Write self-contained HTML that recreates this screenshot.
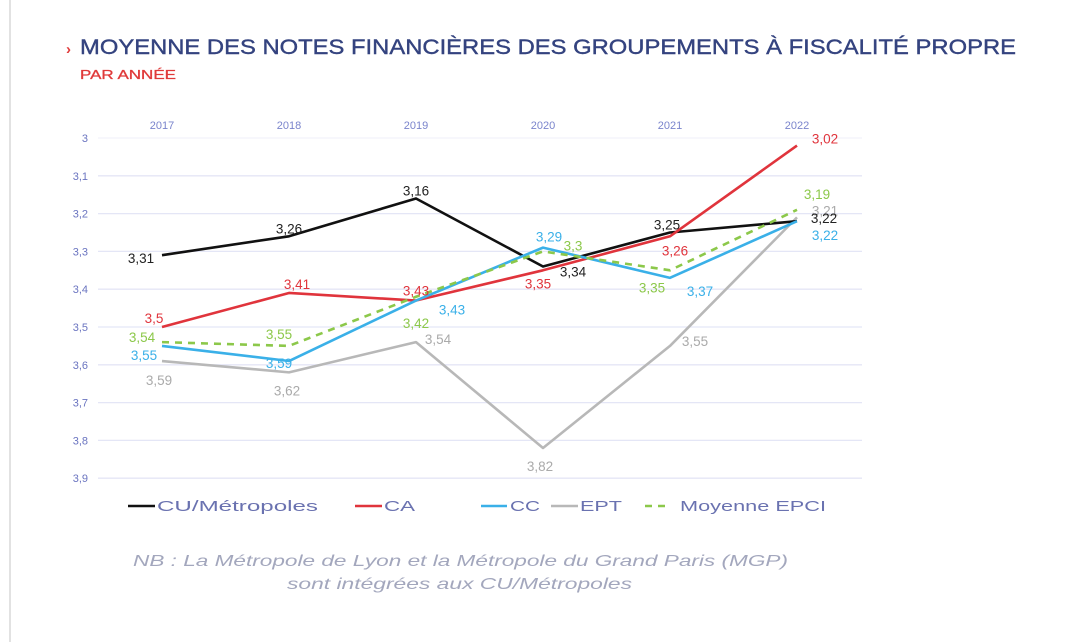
<!DOCTYPE html>
<html><head><meta charset="utf-8"><style>
html,body{margin:0;padding:0;background:#fff;}
svg{display:block;font-family:"Liberation Sans",sans-serif;}
</style></head><body>
<svg id="chart" width="1076" height="642" viewBox="0 0 1076 642">
<line x1="10" y1="0" x2="10" y2="642" stroke="#d8d8d8" stroke-width="1.5"/>
<text x="66" y="54" font-size="15" font-weight="bold" fill="#e03a3a">›</text>
<text x="80" y="54" font-size="21.5" fill="#34437f" stroke="#34437f" stroke-width="0.4" textLength="936" lengthAdjust="spacingAndGlyphs">MOYENNE DES NOTES FINANCIÈRES DES GROUPEMENTS À FISCALITÉ PROPRE</text>
<text x="80" y="79" font-size="13" fill="#e03a3a" stroke="#e03a3a" stroke-width="0.3" textLength="96" lengthAdjust="spacingAndGlyphs">PAR ANNÉE</text>
<g id="grid"></g><g id="series"></g><g id="labels"></g>
<g id="legend" font-size="15" fill="#6a72b0">
<line x1="128" y1="506" x2="155" y2="506" stroke="#111" stroke-width="2.5"/>
<text x="157" y="511" textLength="161" lengthAdjust="spacingAndGlyphs">CU/Métropoles</text>
<line x1="355" y1="506" x2="382" y2="506" stroke="#e0343c" stroke-width="2.5"/>
<text x="384" y="511" textLength="31" lengthAdjust="spacingAndGlyphs">CA</text>
<line x1="481" y1="506" x2="507" y2="506" stroke="#3ab0e8" stroke-width="2.5"/>
<text x="510" y="511" textLength="30" lengthAdjust="spacingAndGlyphs">CC</text>
<line x1="551" y1="506" x2="578" y2="506" stroke="#b8b8b8" stroke-width="2.5"/>
<text x="580" y="511" textLength="42" lengthAdjust="spacingAndGlyphs">EPT</text>
<line x1="645" y1="506" x2="670" y2="506" stroke="#8cc84a" stroke-width="2.5" stroke-dasharray="7,6"/>
<text x="680" y="511" textLength="146" lengthAdjust="spacingAndGlyphs">Moyenne EPCI</text>
</g>
<text x="133" y="566" font-size="16" font-style="italic" fill="#a3a7bd" textLength="655" lengthAdjust="spacingAndGlyphs">NB : La Métropole de Lyon et la Métropole du Grand Paris (MGP)</text>
<text x="287" y="589" font-size="16" font-style="italic" fill="#a3a7bd" textLength="345" lengthAdjust="spacingAndGlyphs">sont intégrées aux CU/Métropoles</text>
</svg>
<script>
const years = ["2017","2018","2019","2020","2021","2022"];
const yTicks = [3,3.1,3.2,3.3,3.4,3.5,3.6,3.7,3.8,3.9];
const tickLabels = ["3","3,1","3,2","3,3","3,4","3,5","3,6","3,7","3,8","3,9"];
const cuValues = [3.31,3.26,3.16,3.34,3.25,3.22];
const caValues = [3.5,3.41,3.43,3.35,3.26,3.02];
const ccValues = [3.55,3.59,3.43,3.29,3.37,3.22];
const eptValues = [3.59,3.62,3.54,3.82,3.55,3.21];
const moyValues = [3.54,3.55,3.42,3.3,3.35,3.19];

const NS = "http://www.w3.org/2000/svg";
function xs(i){ return 162 + i*127; }
function ys(v){ return 138 + (v-3)*378; }
function mk(tag, attrs, parent){ const e=document.createElementNS(NS,tag); for(const k in attrs) e.setAttribute(k,attrs[k]); parent.appendChild(e); return e; }

const grid=document.getElementById('grid');
yTicks.forEach((t,i)=>{
  const l=mk('line',{x1:98,x2:862,y1:ys(t),y2:ys(t),stroke:i===0?'#f2f2fa':'#e4e6f6','stroke-width':1.3},grid);
  
  
  const tx=mk('text',{x:88,y:ys(t)+4,'font-size':11,fill:'#6a74c0','text-anchor':'end'},grid);
  tx.textContent=tickLabels[i];
  
  
});
years.forEach((y,i)=>{
  const tx=mk('text',{x:xs(i),y:129,'font-size':11,fill:'#7a84cc','text-anchor':'middle'},grid);
  tx.textContent=y;
  
  
});

const series=[
 {vals:eptValues,color:'#b8b8b8',name:'series-ept',dash:null,lab:'#aaaaaa',off:[[-3,20],[-2,19],[22,-2],[-3,19],[25,-4],[28,-6]]},
 {vals:cuValues,color:'#111111',name:'series-cu',dash:null,lab:'#222',off:[[-21,4],[0,-7],[0,-7],[30,6],[-3,-7],[27,-2]]},
 {vals:caValues,color:'#e0343c',name:'series-ca',dash:null,lab:'#e0343c',off:[[-8,-8],[8,-8],[0,-9],[-5,14],[5,15],[28,-6]]},
 {vals:ccValues,color:'#3ab0e8',name:'series-cc',dash:null,lab:'#3ab0e8',off:[[-18,10],[-10,3],[36,10],[6,-10],[30,14],[28,15]]},
 {vals:moyValues,color:'#8cc84a',name:'series-moyenne',dash:'7,6',lab:'#8cc84a',off:[[-20,-4],[-10,-11],[0,27],[30,-5],[-18,18],[20,-15]]}
];
const sg=document.getElementById('series'), lg=document.getElementById('labels');
series.forEach(s=>{
  const pts=s.vals.map((v,i)=>xs(i)+','+ys(v)).join(' ');
  const attrs={points:pts,fill:'none',stroke:s.color,'stroke-width':2.6,'stroke-linejoin':'round'};
  if(s.dash) attrs['stroke-dasharray']=s.dash;
  const p=mk('polyline',attrs,sg);
  
  
  s.vals.forEach((v,i)=>{
    const t=mk('text',{x:xs(i)+s.off[i][0],y:ys(v)+s.off[i][1]+4,'font-size':13.5,fill:s.lab,'text-anchor':'middle'},lg);
    t.textContent=String(v).replace('.',',');
    
    
  });
});
</script>
</body></html>
